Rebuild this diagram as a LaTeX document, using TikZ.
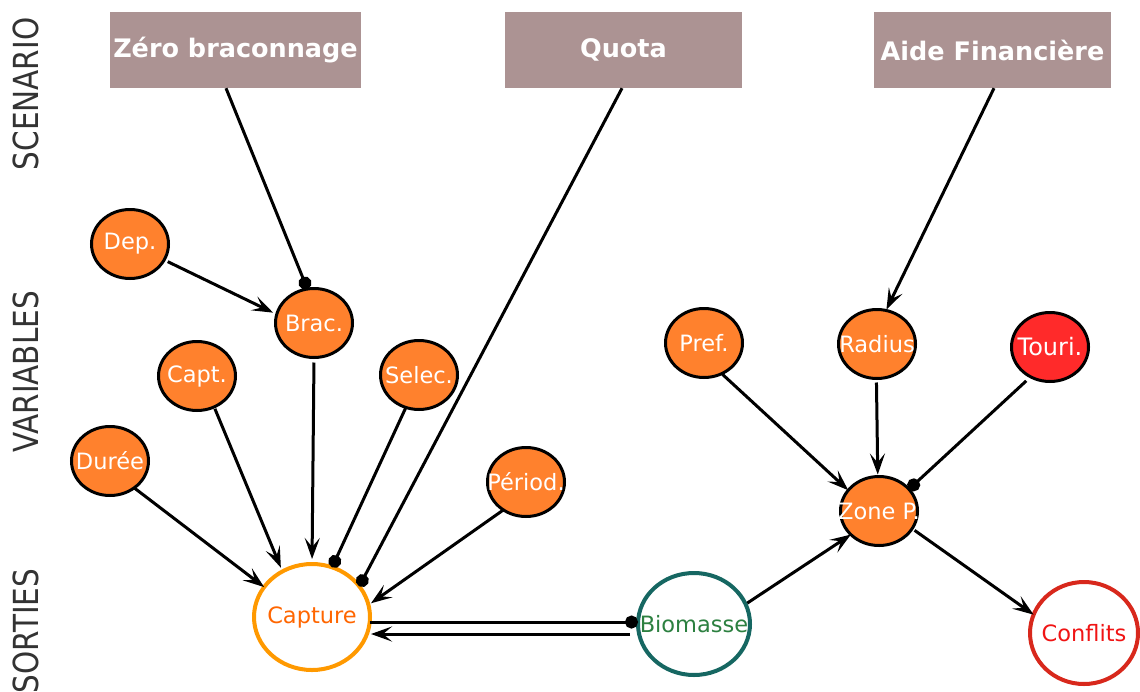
\documentclass[tikz,border=0pt]{standalone}
\usepackage{fontspec}
\setmainfont{DejaVu Sans}
\usetikzlibrary{shapes.geometric,arrows.meta}
\definecolor{boxc}{RGB}{172,147,147}
\definecolor{orfill}{RGB}{255,129,45}
\definecolor{toured}{RGB}{255,42,42}
\definecolor{capline}{RGB}{255,153,0}
\definecolor{captxt}{RGB}{255,102,0}
\definecolor{bioline}{RGB}{22,103,98}
\definecolor{biotxt}{RGB}{44,128,64}
\definecolor{conline}{RGB}{216,40,28}
\definecolor{contxt}{RGB}{240,20,20}
\definecolor{sidetxt}{RGB}{51,51,51}
\begin{document}
\begin{tikzpicture}[x=1pt,y=-1pt,
  scen/.style={rectangle, fill=boxc, minimum height=76pt, inner sep=0pt, text=white, font=\fontsize{25.5}{30}\selectfont\bfseries},
  var/.style={ellipse, draw=black, line width=3pt, fill=orfill, minimum width=77pt, minimum height=69pt, inner sep=0pt, outer sep=0pt, text=white, font=\fontsize{22.5}{27}\selectfont},
  outv/.style={ellipse, line width=4pt, fill=white, inner sep=0pt, outer sep=0pt, font=\fontsize{22.5}{27}\selectfont},
  side/.style={rotate=90, text=sidetxt, inner sep=0pt, font=\fontsize{29.5}{34}\selectfont},
  conn/.style={line width=3pt, draw=black},
  ar/.style={conn, -{Stealth[length=21pt,width=15pt,inset=9pt]}, shorten >=2pt, shorten <=3pt},
  dt/.style={conn, -{Circle[length=13pt]}, shorten <=3pt},
]
\fill[white] (0,0) rectangle (1140,691);
\useasboundingbox (0,0) rectangle (1140,691);

% side labels
\node[side] (lscen) at (26,94) {\scalebox{1}[1.17]{SCENARIO}};
\node[side] (lvar) at (26,372) {\scalebox{1}[1.17]{VARIABLES}};
\node[side] (lsort) at (26,631) {\scalebox{1}[1.17]{SORTIES}};

% scenario boxes
\node[scen, minimum width=251pt] (zb) at (235.5,50) {Zéro braconnage};
\node[scen, minimum width=237pt] (quota) at (623.5,50) {Quota};
\node[scen, minimum width=237pt] (aide) at (992.5,50) {Aide Financière};

% variables
\node[var] (dep) at (130,244) {\makebox[0pt]{Dep.}};
\node[var] (brac) at (314,323) {\makebox[0pt]{Brac.}};
\node[var] (capt) at (197,376) {\makebox[0pt]{Capt.}};
\node[var] (sel) at (419,375) {\makebox[0pt]{Selec.}};
\node[var] (dur) at (110,461) {\makebox[0pt]{Durée}};
\node[var] (per) at (526,482) {\makebox[0pt]{Périod.}};
\node[var] (pref) at (704,343) {\makebox[0pt]{Pref.}};
\node[var] (rad) at (877,344) {\makebox[0pt]{Radius}};
\node[var, fill=toured, font=\fontsize{24}{28}\selectfont] (tour) at (1050,347) {\makebox[0pt]{Touri.}};
\node[var] (zone) at (879,511) {\makebox[0pt]{Zone P.}};

% outputs
\node[outv, draw=capline, text=captxt, minimum width=116pt, minimum height=106pt] (cap) at (312,617) {\makebox[0pt]{Capture}};
\node[outv, draw=bioline, text=biotxt, minimum width=112pt, minimum height=102pt] (bio) at (694,624) {\makebox[0pt]{Biomasse}};
\node[outv, draw=conline, text=contxt, minimum width=108pt, minimum height=102pt] (con) at (1084,633) {\makebox[0pt]{Conflits}};

% connectors from scenarios
\draw[dt, shorten <=0pt] ([xshift=-9.5pt]zb.south) -- (brac.101);
\draw[dt, shorten <=0pt] ([xshift=-1.5pt]quota.south) -- (cap.33);
\draw[ar, shorten <=0pt, shorten >=1pt] ([xshift=1.5pt]aide.south) -- (rad.75);

% into Brac. and Capture
\draw[ar, shorten <=4pt, shorten >=4pt] (dep.-25) -- (brac.167);
\draw[ar, shorten <=2pt, shorten >=4pt] (capt.-61) -- (cap.123);
\draw[ar, shorten <=5pt, shorten >=5pt] (brac.-90) -- (cap.90);
\draw[dt, shorten <=1pt] (sel.-112) -- (cap.68);
\draw[ar, shorten <=0pt, shorten >=0pt] (dur.-48) -- (cap.148);
\draw[ar, shorten <=0pt, shorten >=3pt] (per.-129) -- (cap.12);

% Capture <-> Biomasse
\coordinate (c1) at (cap.-5);
\draw[dt, shorten <=0pt] (c1) -- (c1 -| bio.west);
\coordinate (b1) at ([xshift=-8pt,yshift=-10pt]bio.west);
\draw[ar, shorten <=0pt, shorten >=1pt] (b1) -- (b1 -| cap.east);

% right part
\draw[ar, shorten <=2pt, shorten >=0pt] (bio.21) -- (zone.220);
\draw[ar, shorten <=1pt, shorten >=0pt] (pref.-60) -- (zone.146);
\draw[ar, shorten <=4pt, shorten >=2pt] (rad.-91) -- (zone.92);
\draw[dt, shorten <=6pt] (tour.-123) -- (zone.36);
\draw[ar, shorten <=3pt, shorten >=0pt] (zone.-28) -- (con.160);
\end{tikzpicture}
\end{document}
